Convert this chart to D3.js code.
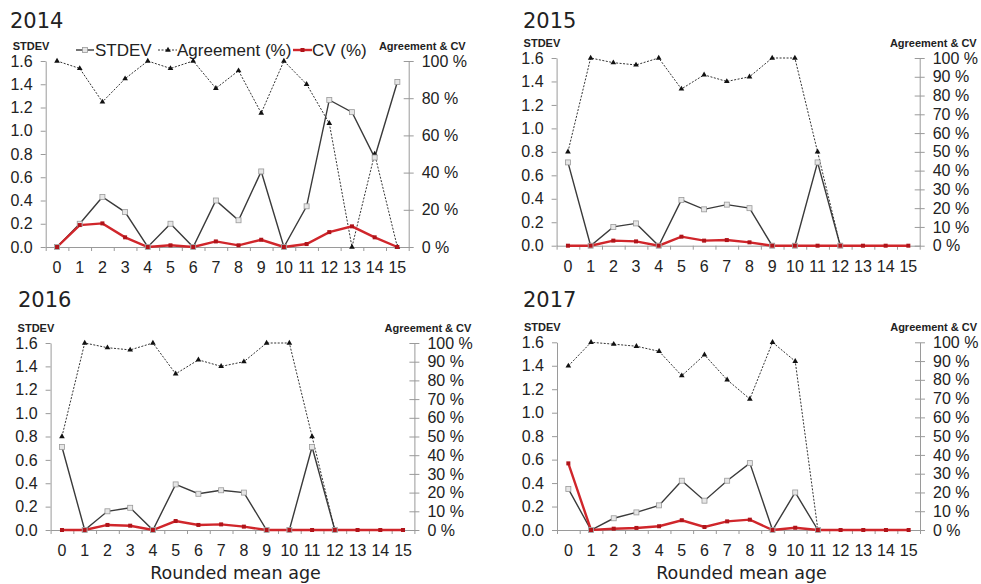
<!DOCTYPE html>
<html><head><meta charset="utf-8">
<script src="https://cdn.jsdelivr.net/npm/d3@7/dist/d3.min.js"></script>
<style>body{margin:0;background:#fff}svg{display:block}</style>
</head><body>
<svg id="chart" width="981" height="584"></svg>
<script>
const categories = d3.range(0, 16);
const years = ["2014", "2015", "2016", "2017"];

const stdev2014 = [0, 0.20, 0.43, 0.30, 0, 0.20, 0, 0.40, 0.23, 0.65, 0, 0.35, 1.265, 1.16, 0.77, 1.42];
const agree2014 = [100, 96, 78, 90.5, 100, 96, 100, 85.3, 94.8, 72, 100, 87.5, 66.5, 0, 50, 0];
const cv2014    = [0, 11.8, 12.7, 5.2, 0, 0.9, 0, 3, 0.9, 3.9, 0, 1.6, 8, 11.1, 5.2, 0];

const stdev2015 = [0.71, 0, 0.16, 0.19, 0, 0.39, 0.31, 0.35, 0.32, 0, 0, 0.71, 0, null, null, null];
const agree2015 = [50, 100, 97.5, 96.3, 100, 83.5, 91, 87.5, 90, 100, 100, 50, 0, null, null, null];
const cv2015    = [0, 0, 2.7, 2.3, 0, 4.8, 2.7, 3, 1.8, 0, 0, 0, 0, 0, 0, 0];

const stdev2016 = [0.71, 0, 0.16, 0.19, 0, 0.39, 0.31, 0.34, 0.32, 0, 0, 0.71, 0, null, null, null];
const agree2016 = [50, 100, 97.5, 96.3, 100, 83.5, 91, 87.5, 90, 100, 100, 50, 0, null, null, null];
const cv2016    = [0, 0, 2.7, 2.3, 0, 4.8, 2.7, 3, 1.8, 0, 0, 0, 0, 0, 0, 0];

const stdev2017 = [0.35, 0, 0.10, 0.15, 0.21, 0.42, 0.25, 0.42, 0.57, 0, 0.32, 0, null, null, null, null];
const agree2017 = [87.4, 100, 99, 97.9, 95.2, 82.2, 93.3, 80, 69.8, 100, 89.9, 0, null, null, null, null];
const cv2017    = [35.5, 0, 0.7, 1.1, 2, 5.2, 1.6, 4.6, 5.5, 0, 1.2, 0, 0, 0, 0, 0];

const leftTicks = [0, 0.2, 0.4, 0.6, 0.8, 1.0, 1.2, 1.4, 1.6];
const rightTicks2014 = [0, 20, 40, 60, 80, 100];
const rightTicks = [0, 10, 20, 30, 40, 50, 60, 70, 80, 90, 100];
const legendLabels = ["STDEV", "Agreement (%)", "CV (%)"];
const xTitle = "Rounded mean age";
const leftTitle = "STDEV";
const rightTitle = "Agreement & CV";

const panels = [
  {year: years[0], stdev: stdev2014, agree: agree2014, cv: cv2014, rt: rightTicks2014,
   L: 45.7, R: 408.7, T: 61, B: 247, titleX: 10, titleY: 28, legend: true, xlabel: false},
  {year: years[1], stdev: stdev2015, agree: agree2015, cv: cv2015, rt: rightTicks,
   L: 556.6, R: 919.7, T: 58, B: 245.7, titleX: 523, titleY: 28, legend: false, xlabel: false},
  {year: years[2], stdev: stdev2016, agree: agree2016, cv: cv2016, rt: rightTicks,
   L: 50.6, R: 414.4, T: 343, B: 530, titleX: 18, titleY: 307, legend: false, xlabel: true},
  {year: years[3], stdev: stdev2017, agree: agree2017, cv: cv2017, rt: rightTicks,
   L: 557, R: 920, T: 342.3, B: 530, titleX: 523, titleY: 307, legend: false, xlabel: true}
];

const svg = d3.select("#chart");
const axisColor = "#9a9a9a";
const red = "#d0262b";
const tickFont = "'Liberation Sans', Arial, sans-serif";

function drawPanel(p) {
  const g = svg.append("g");
  const x = d3.scaleLinear().domain([-0.5, 15.5]).range([p.L, p.R]);
  const yL = d3.scaleLinear().domain([0, 1.6]).range([p.B, p.T]);
  const yR = d3.scaleLinear().domain([0, 100]).range([p.B, p.T]);

  g.append("text").attr("x", p.titleX).attr("y", p.titleY)
    .attr("font-family", "'DejaVu Sans', Verdana, sans-serif").attr("font-size", 21)
    .attr("fill", "#222").text(p.year);

  const la = g.append("g").attr("transform", `translate(${p.L},0)`)
    .call(d3.axisLeft(yL).tickValues(leftTicks).tickFormat(d3.format(".1f")).tickSize(5).tickSizeOuter(0).tickPadding(8));
  la.select(".domain").attr("stroke", axisColor);
  la.selectAll(".tick line").attr("stroke", axisColor);
  la.selectAll(".tick text").attr("font-family", tickFont).attr("font-size", 16).attr("fill", "#222");

  const ra = g.append("g").attr("transform", `translate(${p.R},0)`)
    .call(d3.axisRight(yR).tickValues(p.rt).tickFormat(d => d + " %").tickSize(5).tickSizeOuter(0).tickPadding(8));
  ra.select(".domain").attr("stroke", axisColor);
  ra.selectAll(".tick line").attr("stroke", axisColor).attr("x1", -5);
  ra.selectAll(".tick text").attr("font-family", tickFont).attr("font-size", 16).attr("fill", "#222");

  const xa = g.append("g").attr("transform", `translate(0,${p.B})`)
    .call(d3.axisBottom(x).tickValues(d3.range(-0.5, 16, 1)).tickFormat("").tickSize(4).tickSizeOuter(0));
  xa.select(".domain").attr("stroke", axisColor);
  xa.selectAll(".tick line").attr("stroke", axisColor);
  g.append("g").selectAll("text").data(categories).join("text")
    .attr("x", d => x(d)).attr("y", p.B + 26)
    .attr("text-anchor", "middle").attr("font-family", tickFont).attr("font-size", 16).attr("fill", "#222")
    .text(d => d);

  g.append("text").attr("x", p.L - 33).attr("y", p.T - 11)
    .attr("font-family", tickFont).attr("font-weight", "bold").attr("font-size", 11).attr("fill", "#222")
    .text(leftTitle);
  g.append("text").attr("x", p.R + 57).attr("y", p.T - 11).attr("text-anchor", "end")
    .attr("font-family", tickFont).attr("font-weight", "bold").attr("font-size", 11).attr("fill", "#222")
    .text(rightTitle);

  if (p.xlabel) {
    g.append("text").attr("x", (p.L + p.R) / 2 + 3).attr("y", p.B + 49).attr("text-anchor", "middle")
      .attr("font-family", "'DejaVu Sans', Verdana, sans-serif").attr("font-size", 17.5).attr("fill", "#222")
      .text(xTitle);
  }

  const idx = categories.map((c, i) => i);
  const lineA = d3.line().defined(i => p.agree[i] != null).x(i => x(categories[i])).y(i => yR(p.agree[i]));
  g.append("path").attr("d", lineA(idx)).attr("fill", "none").attr("stroke", "#333")
    .attr("stroke-width", 1).attr("stroke-dasharray", "2,1.5");
  const lineS = d3.line().defined(i => p.stdev[i] != null).x(i => x(categories[i])).y(i => yL(p.stdev[i]));
  g.append("path").attr("d", lineS(idx)).attr("fill", "none").attr("stroke", "#3a3a3a").attr("stroke-width", 1.4);
  const lineC = d3.line().defined(i => p.cv[i] != null).x(i => x(categories[i])).y(i => yR(p.cv[i]));
  g.append("path").attr("d", lineC(idx)).attr("fill", "none").attr("stroke", red).attr("stroke-width", 2.4);

  const tri = d3.symbol().type(d3.symbolTriangle).size(14);
  g.append("g").selectAll("path").data(idx.filter(i => p.agree[i] != null)).join("path")
    .attr("d", tri).attr("transform", i => `translate(${x(categories[i])},${yR(p.agree[i])})`).attr("fill", "#111");
  g.append("g").selectAll("rect").data(idx.filter(i => p.stdev[i] != null)).join("rect")
    .attr("x", i => x(categories[i]) - 2.5).attr("y", i => yL(p.stdev[i]) - 2.5)
    .attr("width", 5).attr("height", 5).attr("fill", "#e6e6e6").attr("stroke", "#999").attr("stroke-width", 0.8);
  g.append("g").selectAll("rect").data(idx.filter(i => p.cv[i] != null)).join("rect")
    .attr("x", i => x(categories[i]) - 2).attr("y", i => yR(p.cv[i]) - 2)
    .attr("width", 4).attr("height", 4).attr("fill", "#b0141a");

  if (p.legend) {
    const lg = g.append("g").attr("font-family", tickFont).attr("font-size", 17).attr("fill", "#222");
    const ly = 50;
    lg.append("line").attr("x1", 76).attr("x2", 94).attr("y1", ly).attr("y2", ly).attr("stroke", "#3a3a3a").attr("stroke-width", 1.4);
    lg.append("rect").attr("x", 82.5).attr("y", ly - 2.5).attr("width", 5).attr("height", 5).attr("fill", "#e6e6e6").attr("stroke", "#999").attr("stroke-width", 0.8);
    lg.append("text").attr("x", 95).attr("y", ly + 6).text(legendLabels[0]);
    lg.append("line").attr("x1", 158).attr("x2", 177).attr("y1", ly).attr("y2", ly).attr("stroke", "#333").attr("stroke-dasharray", "2,1.5");
    lg.append("path").attr("d", tri).attr("transform", `translate(168,${ly})`).attr("fill", "#111");
    lg.append("text").attr("x", 177).attr("y", ly + 6).text(legendLabels[1]);
    lg.append("line").attr("x1", 293).attr("x2", 312).attr("y1", ly).attr("y2", ly).attr("stroke", red).attr("stroke-width", 2.4);
    lg.append("rect").attr("x", 300.5).attr("y", ly - 2).attr("width", 4).attr("height", 4).attr("fill", "#b0141a");
    lg.append("text").attr("x", 312).attr("y", ly + 6).text(legendLabels[2]);
  }
}

panels.forEach(drawPanel);
</script>
</body></html>
